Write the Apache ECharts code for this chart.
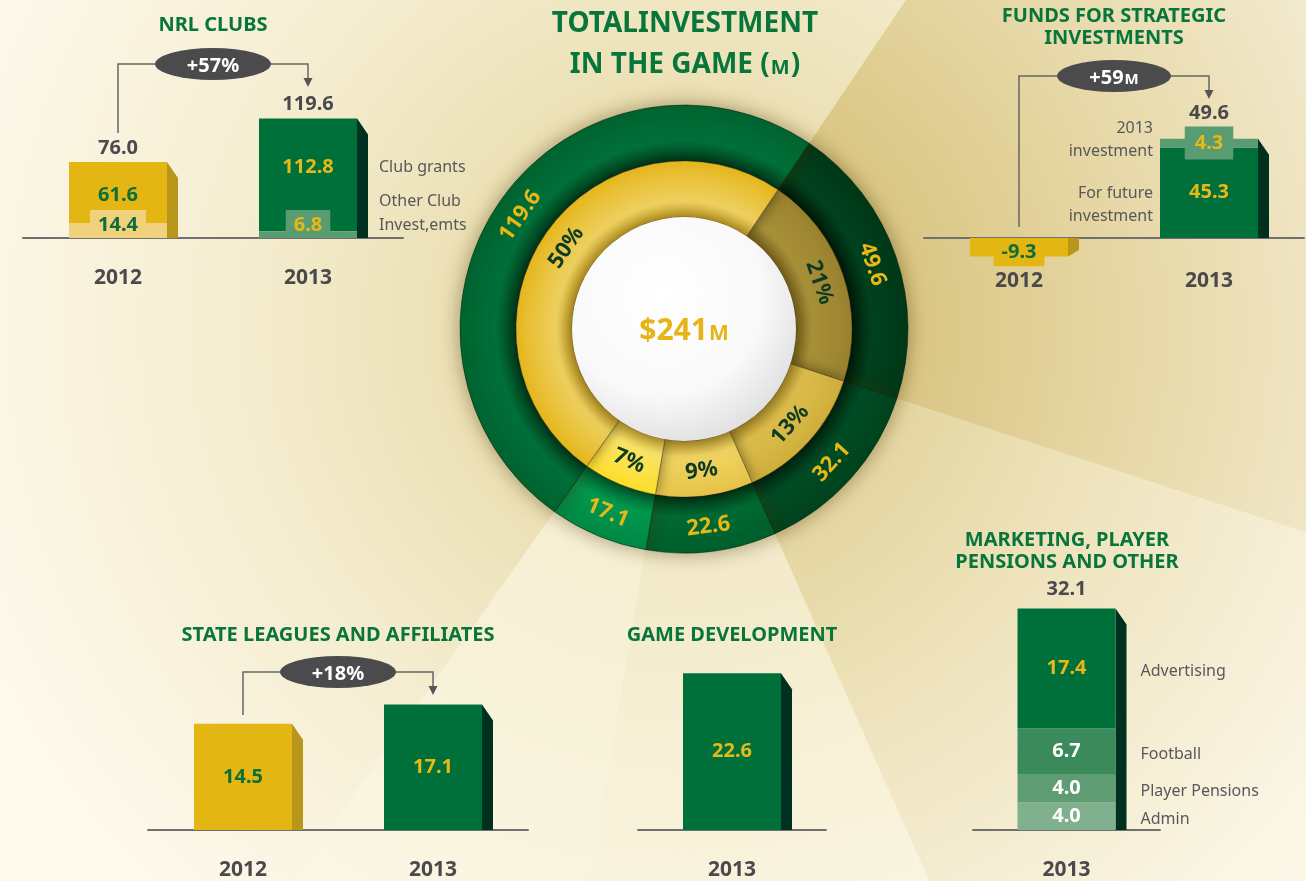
<!DOCTYPE html>
<html lang="en">
<head>
<meta charset="UTF-8">
<title>Total investment in the game</title>
<script src="https://cdn.jsdelivr.net/npm/echarts@6/dist/echarts.min.js"></script>
<style>
    html, body { margin: 0; padding: 0; background: #fbf6e4; }
    #main { width: 1306px; height: 881px; }
</style>
</head>
<body>
<div id="main"></div>
<script>
    // ---- data ----
    var nrlYears = ['2012', '2013'];
    var nrlOther = [14.4, 6.8];
    var nrlGrants = [61.6, 112.8];
    var nrlTotal = [76.0, 119.6];

    var fundYears = ['2012', '2013'];
    var fundFuture = [-9.3, 45.3];
    var fundCurrent = ['-', 4.3];
    var fundTotal = [-9.3, 49.6];

    var stateYears = ['2012', '2013'];
    var stateValues = [14.5, 17.1];

    var devYears = ['2013'];
    var devValues = [22.6];

    var mktYears = ['2013'];
    var mktParts = ['Admin', 'Player Pensions', 'Football', 'Advertising'];
    var mktAdmin = [4.0];
    var mktPensions = [4.0];
    var mktFootball = [6.7];
    var mktAdvertising = [17.4];
    var mktTotal = [32.1];

    var donutValues = [49.6, 32.1, 22.6, 17.1, 119.6];
    var donutShares = ['21%', '13%', '9%', '7%', '50%'];
    var donutTotal = '$241';

    // ---- style ----
    var FONT = '"Noto Sans", "Open Sans", sans-serif';
    var GREEN = '#00703a', GREEN_SIDE = '#00301f', GREEN_LIGHT = '#5a9c72';
    var GOLD = '#e4b614', GOLD_SIDE = '#b8961a', GOLD_LIGHT = '#f0d27c';
    var TITLE = '#08763b', DARK = '#4a4a4c', NOTE = '#58585a';
    var NUM_YELLOW = '#e8b816', NUM_GREEN = '#0d6e37';
    var BAR_W = 98;
    var CX = 684, CY = 329, START = 56;

    var chart = echarts.init(document.getElementById('main'));

    function valueLabel(color, extra) {
        var l = {
            show: true, position: 'inside', color: color, fontSize: 20, fontWeight: 'bold', fontFamily: FONT,
            formatter: function (p) { return Number(p.value).toFixed(1); }
        };
        for (var k in extra) l[k] = extra[k];
        return l;
    }

    function items(values, colors, labels) {
        return values.map(function (v, k) {
            var d = { value: v, itemStyle: { color: colors[k] } };
            if (labels && labels[k]) d.label = labels[k];
            return d;
        });
    }

    function bar(gi, stack, data, z) {
        return {
            type: 'bar', xAxisIndex: gi, yAxisIndex: gi, stack: stack, barWidth: BAR_W,
            data: data, z: z, silent: true, label: valueLabel('#fff')
        };
    }

    // 3D side face + total label
    function sides(gi, totals, colors, gap) {
        return {
            type: 'custom', xAxisIndex: gi, yAxisIndex: gi, z: 2, silent: true,
            data: totals.map(function (v, k) { return [k, v]; }),
            renderItem: function (params, api) {
                var v = api.value(1);
                var base = api.coord([api.value(0), 0]);
                var end = api.coord([api.value(0), v]);
                var x = end[0] + BAR_W / 2;
                var bev = Math.min(16, Math.abs(end[1] - base[1]) * 0.35);
                var pts = v >= 0
                    ? [[x, end[1]], [x + 11, end[1] + bev], [x + 11, base[1]], [x, base[1]]]
                    : [[x, base[1]], [x + 11, base[1]], [x + 11, end[1] - bev], [x, end[1]]];
                var ch = [{ type: 'polygon', shape: { points: pts }, style: { fill: colors[params.dataIndex] } }];
                if (gap != null && v > 0) {
                    ch.push({
                        type: 'text', x: end[0], y: end[1] - gap,
                        style: {
                            text: v.toFixed(1), fill: DARK, font: 'bold 20px ' + FONT,
                            align: 'center', verticalAlign: 'bottom', textAlign: 'center', textVerticalAlign: 'bottom'
                        }
                    });
                }
                return { type: 'group', children: ch };
            }
        };
    }

    function grid(left, top, width, height) {
        return { left: left, top: top, width: width, height: height, containLabel: false };
    }
    function xAxis(gi, cats, margin) {
        return {
            gridIndex: gi, type: 'category', data: cats,
            axisLine: { lineStyle: { color: '#707070', width: 2 } },
            axisTick: { show: false },
            axisLabel: { margin: margin == null ? 30 : margin, fontSize: 21, fontWeight: 'bold', color: DARK, fontFamily: FONT }
        };
    }
    function yAxis(gi, min, max) {
        return { gridIndex: gi, type: 'value', min: min, max: max, show: false, splitLine: { show: false } };
    }

    function txt(s, x, y, font, color, align) {
        return {
            type: 'text', x: x, y: y, z: 20, silent: true,
            style: {
                text: s, font: font, fill: color, align: align || 'center', verticalAlign: 'middle',
                textAlign: align || 'center', textVerticalAlign: 'middle'
            }
        };
    }

    // ---- background rays from the donut ----
    function radial(c0, c1) {
        return {
            type: 'radial', x: CX, y: CY, r: 1000, global: true,
            colorStops: [{ offset: 0.2, color: c0 }, { offset: 0.95, color: c1 }]
        };
    }
    var WEDGE = [
        ['rgba(196,166,70,0.45)', 'rgba(196,166,70,0)'],
        ['rgba(196,166,70,0.18)', 'rgba(196,166,70,0)'],
        ['rgba(255,253,240,0.35)', 'rgba(255,253,240,0)'],
        ['rgba(255,253,240,0.55)', 'rgba(255,253,240,0)'],
        null
    ];
    var bg = [{
        type: 'rect', z: -10, silent: true, shape: { x: 0, y: 0, width: 1306, height: 881 },
        style: {
            fill: {
                type: 'radial', x: CX, y: CY, r: 900, global: true,
                colorStops: [{ offset: 0.2, color: '#e9ddae' }, { offset: 0.5, color: '#f5edd0' }, { offset: 0.85, color: '#fdf9ec' }]
            }
        }
    }];
    var sum = donutValues.reduce(function (a, b) { return a + b; }, 0);
    var ang = START;
    donutValues.forEach(function (v, i) {
        var a2 = ang - v / sum * 360;
        if (WEDGE[i]) {
            var pts = [[CX, CY]];
            for (var k = 0; k <= 10; k++) {
                var a = (ang + (a2 - ang) * k / 10) * Math.PI / 180;
                pts.push([CX + 1600 * Math.cos(a), CY - 1600 * Math.sin(a)]);
            }
            bg.push({ type: 'polygon', z: -9, silent: true, shape: { points: pts }, style: { fill: radial(WEDGE[i][0], WEDGE[i][1]) } });
        }
        ang = a2;
    });

    var titleFont = 'bold 20px ' + FONT;
    var noteFont = '16px ' + FONT;
    var statics = bg.concat([
        {
            type: 'circle', z: 10, silent: true, shape: { cx: CX, cy: CY, r: 112 },
            style: {
                fill: { type: 'radial', x: 0.4, y: 0.35, r: 0.75, colorStops: [{ offset: 0, color: '#ffffff' }, { offset: 0.6, color: '#f9f9f9' }, { offset: 1, color: '#d9d9db' }] },
                shadowBlur: 18, shadowColor: 'rgba(60,40,0,0.55)', shadowOffsetY: 2
            }
        },
        {
            type: 'text', x: CX, y: CY, z: 11, silent: true,
            style: {
                text: '{a|' + donutTotal + '}{b|M}', align: 'center', verticalAlign: 'middle', textAlign: 'center', textVerticalAlign: 'middle',
                rich: {
                    a: { fontSize: 30, fontWeight: 'bold', fontFamily: FONT, fill: '#e6b416', lineHeight: 34, verticalAlign: 'bottom' },
                    b: { fontSize: 21, fontWeight: 'bold', fontFamily: FONT, fill: '#e6b416', lineHeight: 34, verticalAlign: 'bottom', padding: [0, 0, 1, 1] }
                }
            }
        },
        txt('TOTALINVESTMENT', 685, 24, 'bold 28px ' + FONT, TITLE),
        {
            type: 'text', x: 685, y: 62, z: 20, silent: true,
            style: {
                text: '{a|IN THE GAME (}{b|M}{a|)}', align: 'center', verticalAlign: 'middle', textAlign: 'center', textVerticalAlign: 'middle',
                rich: {
                    a: { fontSize: 28, fontWeight: 'bold', fontFamily: FONT, fill: TITLE, lineHeight: 34, verticalAlign: 'bottom' },
                    b: { fontSize: 20, fontWeight: 'bold', fontFamily: FONT, fill: TITLE, lineHeight: 34, verticalAlign: 'bottom', padding: [0, 1, 1, 1] }
                }
            }
        },
        txt('NRL CLUBS', 213, 25, titleFont, TITLE),
        txt('FUNDS FOR STRATEGIC', 1114, 16, titleFont, TITLE),
        txt('INVESTMENTS', 1114, 38, titleFont, TITLE),
        txt('STATE LEAGUES AND AFFILIATES', 338, 635, titleFont, TITLE),
        txt('GAME DEVELOPMENT', 732, 635, titleFont, TITLE),
        txt('MARKETING, PLAYER', 1067, 540, titleFont, TITLE),
        txt('PENSIONS AND OTHER', 1067, 562, titleFont, TITLE),
        txt('Club grants', 379, 167, noteFont, NOTE, 'left'),
        txt('Other Club', 379, 201, noteFont, NOTE, 'left'),
        txt('Invest,emts', 379, 225, noteFont, NOTE, 'left'),
        txt('2013', 1153, 128, noteFont, NOTE, 'right'),
        txt('investment', 1153, 151, noteFont, NOTE, 'right'),
        txt('For future', 1153, 193, noteFont, NOTE, 'right'),
        txt('investment', 1153, 216, noteFont, NOTE, 'right')
    ]);

    // ---- donut colours ----
    function ring(r, stops) {
        return { type: 'radial', x: CX, y: CY, r: r, global: true, colorStops: stops };
    }
    var outerCol = [
        ring(224, [{ offset: 0.75, color: '#00200c' }, { offset: 0.84, color: '#00411e' }, { offset: 1, color: '#003818' }]),
        ring(224, [{ offset: 0.75, color: '#002a12' }, { offset: 0.84, color: '#004c24' }, { offset: 1, color: '#00431f' }]),
        ring(224, [{ offset: 0.75, color: '#003a1a' }, { offset: 0.84, color: '#006a33' }, { offset: 1, color: '#005f2e' }]),
        ring(224, [{ offset: 0.75, color: '#006030' }, { offset: 0.84, color: '#00984e' }, { offset: 1, color: '#008a46' }]),
        ring(224, [{ offset: 0.75, color: '#00401f' }, { offset: 0.84, color: '#006f38' }, { offset: 1, color: '#006431' }])
    ];
    var innerCol = [
        ring(168, [{ offset: 0.667, color: '#7e6a22' }, { offset: 0.76, color: '#a89038' }, { offset: 1, color: '#9a8230' }]),
        ring(168, [{ offset: 0.667, color: '#b89a30' }, { offset: 0.76, color: '#dcbd4c' }, { offset: 1, color: '#d0af3c' }]),
        ring(168, [{ offset: 0.667, color: '#c8a838' }, { offset: 0.76, color: '#f0d462' }, { offset: 1, color: '#e8c448' }]),
        ring(168, [{ offset: 0.667, color: '#d8bc40' }, { offset: 0.76, color: '#fbe46a' }, { offset: 1, color: '#fedf2a' }]),
        ring(168, [{ offset: 0.667, color: '#c8a428' }, { offset: 0.76, color: '#eed060' }, { offset: 1, color: '#e6b81e' }])
    ];

    var option = {
        animation: false,
        textStyle: { fontFamily: FONT },
        grid: [
            grid(23, 38, 380, 200),
            grid(924, 118, 380, 160),
            grid(148, 610, 380, 222),
            grid(638, 622, 188, 210),
            grid(973, 554, 187, 278)
        ],
        xAxis: [xAxis(0, nrlYears), xAxis(1, fundYears, -7), xAxis(2, stateYears), xAxis(3, devYears), xAxis(4, mktYears)],
        yAxis: [yAxis(0, 0, 200), yAxis(1, -20, 60), yAxis(2, 0, 30), yAxis(3, 0, 30), yAxis(4, 0, 40)],
        series: [
            // NRL clubs
            bar(0, 'nrl', items(nrlOther, [GOLD_LIGHT, GREEN_LIGHT], [
                valueLabel(NUM_GREEN, { position: 'insideBottom', distance: 0, backgroundColor: GOLD_LIGHT, padding: [5, 8, 3, 8], lineHeight: 20 }),
                valueLabel(NUM_YELLOW, { position: 'insideBottom', distance: 0, backgroundColor: GREEN_LIGHT, padding: [5, 8, 3, 8], lineHeight: 20 })
            ]), 4),
            bar(0, 'nrl', items(nrlGrants, [GOLD, GREEN], [
                valueLabel(NUM_GREEN, { offset: [0, 2] }), valueLabel(NUM_YELLOW, { offset: [0, -8] })
            ]), 3),
            sides(0, nrlTotal, [GOLD_SIDE, GREEN_SIDE], 4),
            // strategic funds
            bar(1, 'fund', items(fundFuture, [GOLD, GREEN], [
                valueLabel(NUM_GREEN, { backgroundColor: GOLD, padding: [4, 8, 4, 8], lineHeight: 20, offset: [0, 5] }),
                valueLabel(NUM_YELLOW)
            ]), 3),
            bar(1, 'fund', items(fundCurrent, [GREEN_LIGHT, GREEN_LIGHT], [
                null, valueLabel(NUM_YELLOW, { backgroundColor: GREEN_LIGHT, padding: [7, 10, 6, 10], lineHeight: 20 })
            ]), 4),
            sides(1, fundTotal, [GOLD_SIDE, GREEN_SIDE], 16),
            // state leagues
            bar(2, 'state', items(stateValues, [GOLD, GREEN], [valueLabel(NUM_GREEN), valueLabel(NUM_YELLOW)]), 3),
            sides(2, stateValues, [GOLD_SIDE, GREEN_SIDE], null),
            // game development
            bar(3, 'dev', items(devValues, [GREEN], [valueLabel(NUM_YELLOW)]), 3),
            sides(3, devValues, [GREEN_SIDE], null),
            // marketing etc.
            bar(4, 'mkt', items(mktAdmin, ['#80b08d']), 3),
            bar(4, 'mkt', items(mktPensions, ['#5e9c74']), 3),
            bar(4, 'mkt', items(mktFootball, ['#3a8a5b']), 3),
            bar(4, 'mkt', items(mktAdvertising, [GREEN], [valueLabel(NUM_YELLOW)]), 3),
            sides(4, mktTotal, [GREEN_SIDE], 9),
            // donut
            {
                type: 'pie', z: 2, silent: true, center: [CX, CY], radius: [168, 224], startAngle: START, clockwise: true,
                data: donutValues.map(function (v, k) { return { value: v, itemStyle: { color: outerCol[k] } }; }),
                itemStyle: { borderColor: 'rgba(0,30,10,0.5)', borderWidth: 1, shadowBlur: 20, shadowColor: 'rgba(70,50,0,0.45)' },
                label: {
                    show: true, position: 'inside', rotate: 'tangential', color: NUM_YELLOW, fontSize: 22, fontWeight: 'bold', fontFamily: FONT,
                    formatter: function (p) { return p.value.toFixed(1); }
                },
                labelLine: { show: false }, emphasis: { disabled: true }
            },
            {
                type: 'pie', z: 3, silent: true, center: [CX, CY], radius: [112, 168], startAngle: START, clockwise: true,
                data: donutValues.map(function (v, k) { return { value: v, itemStyle: { color: innerCol[k] } }; }),
                itemStyle: { borderColor: 'rgba(60,40,0,0.35)', borderWidth: 1, shadowBlur: 14, shadowColor: 'rgba(0,0,0,0.45)' },
                label: {
                    show: true, position: 'inside', rotate: 'tangential', color: '#0e3a22', fontSize: 22, fontWeight: 'bold', fontFamily: FONT,
                    formatter: function (p) { return donutShares[p.dataIndex]; }
                },
                labelLine: { show: false }, emphasis: { disabled: true }
            }
        ],
        graphic: statics
    };

    chart.setOption(option);

    // ---- change brackets and side notes placed from the axes ----
    function bracket(gi, yTop, yStart, yTip, label, rx) {
        var p0 = chart.convertToPixel({ gridIndex: gi }, [0, 0]);
        var p1 = chart.convertToPixel({ gridIndex: gi }, [1, 0]);
        var x0 = p0[0], x1 = p1[0], mx = (x0 + x1) / 2;
        return [
            { type: 'polyline', z: 15, silent: true, shape: { points: [[x0, yStart], [x0, yTop], [x1, yTop], [x1, yTip - 6]] }, style: { stroke: '#666', lineWidth: 1.5, fill: null } },
            { type: 'polygon', z: 15, silent: true, shape: { points: [[x1 - 4.5, yTip - 9], [x1 + 4.5, yTip - 9], [x1, yTip]] }, style: { fill: '#555' } },
            { type: 'circle', z: 16, silent: true, x: mx, y: yTop, scaleX: rx / 16, shape: { cx: 0, cy: 0, r: 16 }, style: { fill: '#4b4b4d' } },
            {
                type: 'text', z: 17, silent: true, x: mx, y: yTop,
                style: {
                    text: label, align: 'center', verticalAlign: 'middle', textAlign: 'center', textVerticalAlign: 'middle',
                    rich: {
                        a: { fontSize: 20, fontWeight: 'bold', fontFamily: FONT, fill: '#fff', lineHeight: 24, verticalAlign: 'bottom' },
                        b: { fontSize: 15, fontWeight: 'bold', fontFamily: FONT, fill: '#fff', lineHeight: 24, verticalAlign: 'bottom', padding: [0, 0, 1, 1] }
                    }
                }
            }
        ];
    }

    var extra = []
        .concat(bracket(0, 64, 133, 87, '{a|+57%}', 58))
        .concat(bracket(1, 76, 227, 99, '{a|+59}{b|M}', 57))
        .concat(bracket(2, 672, 715, 695, '{a|+18%}', 58));

    var mktStack = [mktAdmin[0], mktPensions[0], mktFootball[0], mktAdvertising[0]];
    var acc = 0;
    mktParts.forEach(function (name, k) {
        var mid = chart.convertToPixel({ gridIndex: 4 }, [0, acc + mktStack[k] / 2]);
        acc += mktStack[k];
        extra.push(txt(name, mid[0] + BAR_W / 2 + 25, mid[1] + 3, noteFont, NOTE, 'left'));
    });

    chart.setOption({ graphic: statics.concat(extra) });
</script>
</body>
</html>
